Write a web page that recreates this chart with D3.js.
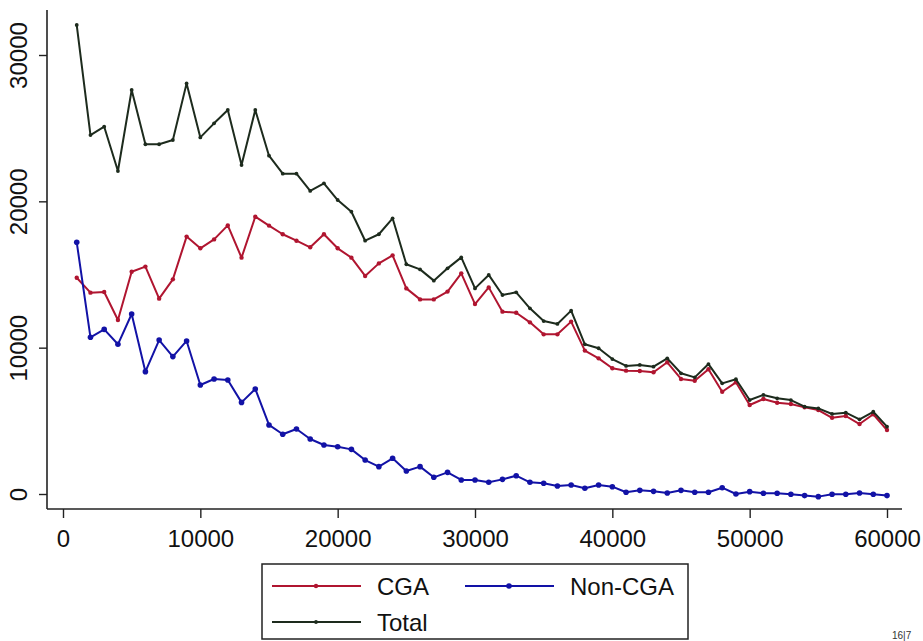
<!DOCTYPE html>
<html>
<head>
<meta charset="utf-8">
<script src="https://cdn.jsdelivr.net/npm/d3@7"></script>
<style>
  html, body { margin: 0; padding: 0; background: #fff; overflow: hidden; }
  svg { display: block; font-family: "Liberation Sans", Arial, Helvetica, sans-serif; }
</style>
</head>
<body>
<svg id="chart" width="923" height="641"></svg>
<script>
// x positions of the points (1000 .. 60000)
const xValues = [
  1000, 2000, 3000, 4000, 5000, 6000, 7000, 8000, 9000, 10000,
  11000, 12000, 13000, 14000, 15000, 16000, 17000, 18000, 19000, 20000,
  21000, 22000, 23000, 24000, 25000, 26000, 27000, 28000, 29000, 30000,
  31000, 32000, 33000, 34000, 35000, 36000, 37000, 38000, 39000, 40000,
  41000, 42000, 43000, 44000, 45000, 46000, 47000, 48000, 49000, 50000,
  51000, 52000, 53000, 54000, 55000, 56000, 57000, 58000, 59000, 60000
];

const cga = [
  14780, 13760, 13800, 11890, 15190, 15540, 13350, 14670, 17590, 16790,
  17400, 18360, 16150, 18950, 18340, 17750, 17310, 16860, 17750, 16790,
  16150, 14900, 15760, 16310, 14050, 13300, 13300, 13830, 15080, 12980,
  14120, 12460, 12390, 11730, 10910, 10910, 11780, 9800, 9270, 8590,
  8430, 8410, 8320, 9000, 7860, 7740, 8520, 6990, 7630, 6080,
  6490, 6240, 6150, 5920, 5740, 5210, 5330, 4780, 5450, 4370
];

const nonCga = [
  17200, 10710, 11250, 10230, 12300, 8360, 10520, 9390, 10460, 7450,
  7860, 7790, 6260, 7180, 4720, 4080, 4440, 3760, 3350, 3230,
  3050, 2320, 1870, 2440, 1570, 1870, 1140, 1480, 960, 960,
  800, 1000, 1250, 800, 730, 550, 620, 390, 620, 500,
  120, 250, 180, 70, 250, 120, 120, 430, 0, 160,
  50, 50, -20, -110, -180, -20, -20, 70, -20, -110
];

const total = [
  32050, 24530, 25100, 22070, 27610, 23900, 23900, 24190, 28060, 24370,
  25330, 26240, 22480, 26240, 23120, 21890, 21890, 20710, 21230, 20090,
  19290, 17310, 17750, 18840, 15700, 15350, 14580, 15420, 16170, 14050,
  14970, 13600, 13780, 12690, 11820, 11620, 12530, 10230, 9960, 9220,
  8750, 8820, 8700, 9270, 8250, 7970, 8880, 7560, 7840, 6420,
  6770, 6540, 6420, 5970, 5850, 5470, 5560, 5100, 5620, 4600
];

const xTicks = [0, 10000, 20000, 30000, 40000, 50000, 60000];
const yTicks = [0, 10000, 20000, 30000];

const seriesNames = ["CGA", "Non-CGA", "Total"];
const seriesColors = ["#b01530", "#1212a6", "#1d2b1d"];

const svg = d3.select("#chart");

const x = d3.scaleLinear().domain([0, 60000]).range([63, 887]);
const y = d3.scaleLinear().domain([0, 30000]).range([494, 55]);

const axisFont = "24px";

// x axis
const xAxisG = svg.append("g")
  .attr("transform", "translate(0,509)")
  .call(d3.axisBottom(x).tickValues(xTicks).tickFormat(d3.format("d"))
    .tickSize(9).tickSizeOuter(0).tickPadding(12));
xAxisG.select(".domain").remove();
xAxisG.selectAll(".tick line").attr("stroke", "#222").attr("stroke-width", 1.4);
xAxisG.selectAll("text").attr("fill", "#111").style("font-size", axisFont);
svg.append("line")
  .attr("x1", 47).attr("x2", 902).attr("y1", 509).attr("y2", 509)
  .attr("stroke", "#222").attr("stroke-width", 1.6);

// y axis
const yAxisG = svg.append("g")
  .attr("transform", "translate(47,0)")
  .call(d3.axisLeft(y).tickValues(yTicks).tickFormat(d3.format("d"))
    .tickSize(8).tickSizeOuter(0));
yAxisG.select(".domain").remove();
yAxisG.selectAll(".tick line").attr("stroke", "#222").attr("stroke-width", 1.4);
yAxisG.selectAll("text")
  .attr("transform", "rotate(-90)")
  .attr("x", 0)
  .attr("y", -20)
  .attr("dy", 0)
  .attr("fill", "#111")
  .style("text-anchor", "middle")
  .style("font-size", axisFont);
svg.append("line")
  .attr("x1", 47).attr("x2", 47).attr("y1", 10).attr("y2", 509)
  .attr("stroke", "#222").attr("stroke-width", 1.6);

// series
const allSeries = [cga, nonCga, total];
const radii = [2.2, 2.8, 1.9];
const line = d3.line()
  .x((d, i) => x(xValues[i]))
  .y(d => y(d));

allSeries.forEach((vals, s) => {
  svg.append("path")
    .datum(vals)
    .attr("d", line)
    .attr("fill", "none")
    .attr("stroke", seriesColors[s])
    .attr("stroke-width", 2)
    .attr("stroke-linejoin", "round");
  svg.append("g")
    .selectAll("circle")
    .data(vals)
    .enter()
    .append("circle")
    .attr("cx", (d, i) => x(xValues[i]))
    .attr("cy", d => y(d))
    .attr("r", radii[s])
    .attr("fill", seriesColors[s]);
});

// legend
const legend = svg.append("g");
legend.append("rect")
  .attr("x", 262).attr("y", 564).attr("width", 426).attr("height", 75)
  .attr("fill", "#fff").attr("stroke", "#222").attr("stroke-width", 1.5);

const legendPos = [
  { lx: 272, ty: 586 },
  { lx: 465, ty: 586 },
  { lx: 272, ty: 622 }
];
seriesNames.forEach((name, s) => {
  const p = legendPos[s];
  legend.append("line")
    .attr("x1", p.lx).attr("x2", p.lx + 89)
    .attr("y1", p.ty).attr("y2", p.ty)
    .attr("stroke", seriesColors[s]).attr("stroke-width", 1.8);
  legend.append("circle")
    .attr("cx", p.lx + 44).attr("cy", p.ty).attr("r", radii[s])
    .attr("fill", seriesColors[s]);
  legend.append("text")
    .attr("x", p.lx + 105).attr("y", p.ty)
    .attr("dy", "0.36em")
    .attr("fill", "#111")
    .style("font-size", axisFont)
    .text(name);
});

// page number fragment in the corner
svg.append("text")
  .attr("x", 892).attr("y", 639)
  .attr("fill", "#333")
  .style("font-size", "10px")
  .text("16|7");
</script>
</body>
</html>
